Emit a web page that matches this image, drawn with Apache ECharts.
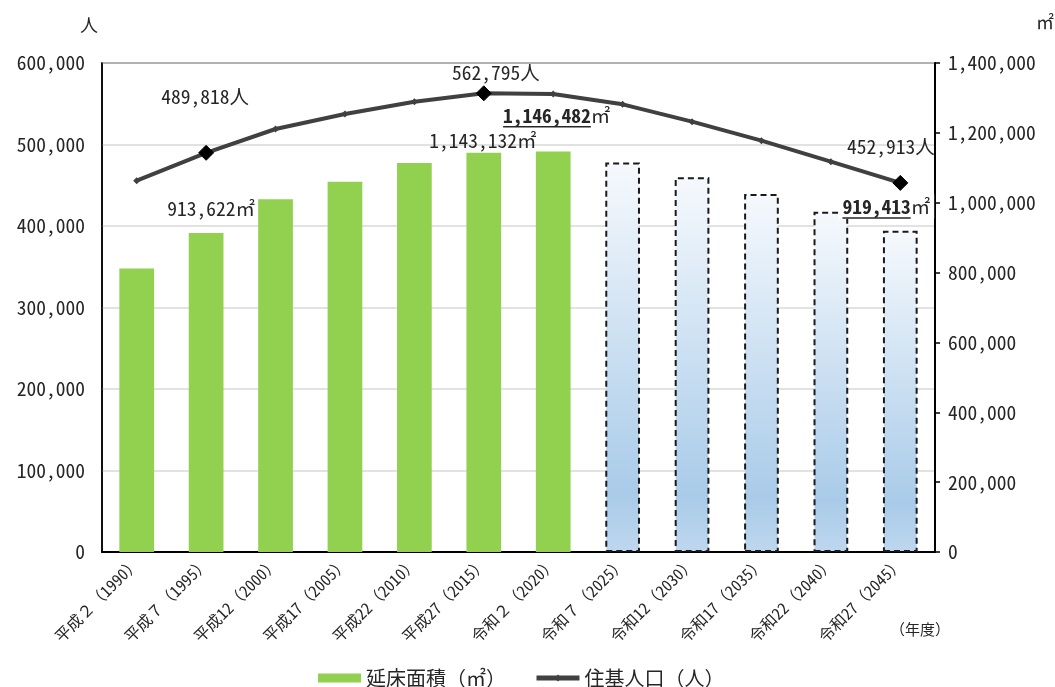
<!DOCTYPE html>
<html><head><meta charset="utf-8">
<script src="https://cdn.jsdelivr.net/npm/echarts@6/dist/echarts.min.js"></script>
<style>html,body{margin:0;padding:0;background:#fff}#c{width:1055px;height:687px}</style>
</head><body><div id="c"></div>
<script>
const categories = ['平成２（1990）','平成７（1995）','平成12（2000）','平成17（2005）','平成22（2010）','平成27（2015）','令和２（2020）','令和７（2025）','令和12（2030）','令和17（2035）','令和22（2040）','令和27（2045）'];
const floorArea = [812000, 913622, 1010000, 1060000, 1114000, 1143132, 1146482, 1115000, 1073000, 1025000, 974000, 919413];
const population = [455600, 489818, 519000, 537500, 552500, 562795, 562000, 549300, 528000, 504700, 478900, 452913];
const firstForecastIndex = 7;
const leftAxisRange = [0, 600000, 100000];
const rightAxisRange = [0, 1400000, 200000];
const seriesNames = ['延床面積（㎡）', '住基人口（人）'];

const FONT = '"Noto Sans Mono CJK JP","Noto Sans CJK JP",sans-serif';
const TXT = '#262626';
const FS = 19.5;
const fmt = v => v.toLocaleString('en-US');

const ctx = document.createElement('canvas').getContext('2d');
function textW(s, weight, size) { ctx.font = `${weight} ${size}px ${FONT}`; return ctx.measureText(s).width; }

function underlinedLabel(v, extra) {
  const num = fmt(v);
  const wN = textW(num, 'bold', FS), wU = textW('㎡', 'normal', FS);
  return Object.assign({
    show: true, position: 'top', fontFamily: FONT, color: TXT,
    formatter: `{n|${num}}{u|㎡}\n{ul|}{sp|}`,
    rich: {
      n: {fontWeight: 'bold', fontSize: FS, fontFamily: FONT, color: TXT, lineHeight: 21},
      u: {fontSize: FS, fontFamily: FONT, color: TXT, lineHeight: 21},
      ul: {width: wN, height: 1.5, backgroundColor: TXT},
      sp: {width: wU, height: 1.5}
    }
  }, extra);
}
const plainBarLabel = extra => Object.assign({show: true, position: 'top', fontSize: FS, fontFamily: FONT, color: TXT, formatter: p => fmt(p.value) + '㎡'}, extra);

const barLabels = {
  1: plainBarLabel({distance: 15, offset: [5, 0]}),
  5: plainBarLabel({distance: 2, offset: [-1, 0]}),
  6: underlinedLabel(floorArea[6], {distance: 24, offset: [3.5, 0]}),
  11: underlinedLabel(floorArea[11], {distance: 12, offset: [-14, 0], backgroundColor: '#fff', padding: [2, 4, 0, 4]})
};
const popLabels = {
  1: {distance: 38, offset: [-1, 0]},
  5: {distance: 3, offset: [12, 0]},
  11: {distance: 19, offset: [-9.5, 0]}
};

const forecastStyle = {
  color: new echarts.graphic.LinearGradient(0, 0, 0, 1, [
    {offset: 0, color: '#f6f9fd'}, {offset: 0.85, color: '#a9cbe9'}, {offset: 1, color: '#bed7ee'}
  ]),
  borderColor: '#1a1a1a', borderWidth: 2, borderType: [6, 4]
};

const barData = floorArea.map((v, i) => {
  const d = {value: v};
  if (i >= firstForecastIndex) d.itemStyle = forecastStyle;
  if (barLabels[i]) d.label = barLabels[i];
  return d;
});
const lineData = population.map((v, i) => {
  const d = {value: v};
  if (popLabels[i]) {
    d.symbolSize = 15;
    d.itemStyle = {color: '#000', borderColor: '#000'};
    d.label = Object.assign({show: true, position: 'top', fontSize: FS, fontFamily: FONT, color: TXT, formatter: p => fmt(p.value) + '人'}, popLabels[i]);
  }
  return d;
});

const chart = echarts.init(document.getElementById('c'), null, {renderer: 'canvas'});
chart.setOption({
  animation: false,
  textStyle: {fontFamily: FONT},
  grid: {left: 102, right: 120, top: 63, bottom: 135, show: true, borderColor: '#000', borderWidth: 1.5, backgroundColor: 'transparent'},
  legend: {
    top: 663, left: 313, itemWidth: 43, itemHeight: 9, itemGap: 28,
    textStyle: {fontSize: 20, fontFamily: FONT, color: TXT},
    data: [{name: seriesNames[0], icon: 'rect'}, {name: seriesNames[1], lineStyle: {width: 5, color: '#404040'}}]
  },
  xAxis: {
    type: 'category', data: categories,
    axisLine: {lineStyle: {color: '#000', width: 2}},
    axisTick: {show: false},
    axisLabel: {rotate: 45, fontSize: 16, fontFamily: FONT, color: TXT, margin: 8, interval: 0}
  },
  yAxis: [
    {
      type: 'value', min: leftAxisRange[0], max: leftAxisRange[1], interval: leftAxisRange[2],
      axisLine: {show: true, lineStyle: {color: '#000', width: 1.5}},
      axisTick: {show: false},
      axisLabel: {fontSize: FS, fontFamily: FONT, color: TXT, margin: 17, formatter: v => fmt(v)},
      splitLine: {lineStyle: {color: '#d9d9d9', width: 1.5}}
    },
    {
      type: 'value', min: rightAxisRange[0], max: rightAxisRange[1], interval: rightAxisRange[2],
      position: 'right',
      axisLine: {show: true, lineStyle: {color: '#000', width: 2}},
      axisTick: {show: true, length: 5, lineStyle: {color: '#000', width: 1.5}},
      axisLabel: {fontSize: FS, fontFamily: FONT, color: TXT, margin: 13, formatter: v => fmt(v)},
      splitLine: {show: false}
    }
  ],
  graphic: [
    {type: 'text', left: 80, top: 16, style: {text: '人', font: `18px ${FONT}`, fill: TXT}},
    {type: 'text', left: 1036, top: 13, style: {text: '㎡', font: `18px ${FONT}`, fill: TXT}},
    {type: 'text', left: 890, top: 622, style: {text: '（年度）', font: `15px ${FONT}`, fill: TXT}}
  ],
  series: [
    {
      name: seriesNames[0], type: 'bar', yAxisIndex: 1, barWidth: '50%',
      itemStyle: {color: '#92d050'},
      data: barData, z: 2
    },
    {
      name: seriesNames[1], type: 'line', yAxisIndex: 0,
      symbol: 'diamond', symbolSize: 7, showAllSymbol: true,
      lineStyle: {color: '#404040', width: 4},
      itemStyle: {color: '#404040'},
      data: lineData, z: 3
    }
  ]
});
</script></body></html>
